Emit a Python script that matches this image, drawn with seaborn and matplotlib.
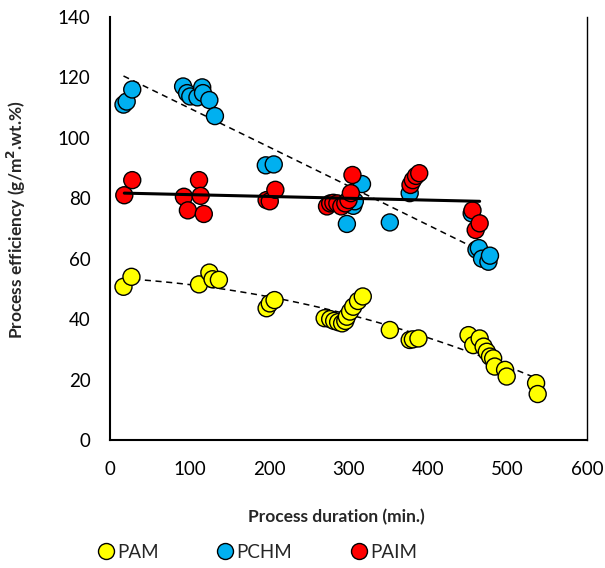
import numpy as np
import pandas as pd
import matplotlib
matplotlib.use("Agg")
import matplotlib.pyplot as plt
import seaborn as sns
from matplotlib.lines import Line2D

sns.set_style("white")
plt.rcParams['font.family'] = ['Lato', 'DejaVu Sans']

# PAM (yellow)
pam_x = [17, 27, 112, 125, 129, 137, 197, 201, 207, 270, 277, 282, 287, 292, 296, 298,
         302, 306, 312, 318, 352, 377, 381, 388, 451, 457, 465, 470, 474, 478, 482, 484,
         497, 499, 536, 538]
pam_y = [50.7, 54, 51.5, 55.4, 53.2, 53, 43.6, 45.2, 46.3, 40.3, 40, 39.4, 39, 38.6, 39.4, 40.8,
         42.5, 44.1, 46, 47.5, 36.4, 33.1, 33.3, 33.6, 34.7, 31.4, 33.6, 30.9, 29.2, 27.6, 27, 24.3,
         23.2, 21, 18.8, 15.2]

# PCHM (blue)
pchm_x = [17, 21, 28, 92, 97, 101, 110, 116, 117, 125, 132, 196, 206, 298, 306, 308, 317,
          352, 377, 455, 461, 464, 468, 476, 478]
pchm_y = [111, 112, 116, 117, 114.8, 113.7, 113.4, 116.7, 114.8, 112.5, 107.2, 90.9, 91.2,
          71.5, 77.5, 79, 84.7, 72, 81.7, 75, 63, 63.5, 60, 59, 61]

# PAIM (red)
paim_x = [18, 28, 93, 98, 112, 114, 118, 197, 201, 208, 273, 277, 281, 286, 291, 296, 300,
          303, 305, 378, 381, 385, 389, 456, 460, 465]
paim_y = [81, 86, 80.5, 76, 86, 80.8, 74.8, 79.4, 79, 82.8, 77.3, 78.3, 78.5, 78.3, 77.3, 78.3,
          79.4, 81.7, 87.7, 84.4, 86, 87.4, 88.3, 76, 69.5, 71.7]

names = ["PAM", "PCHM", "PAIM"]
colors = {"PAM": "#FFFF00", "PCHM": "#00B0F0", "PAIM": "#FF0000"}

df = pd.concat([
    pd.DataFrame({"x": pam_x, "y": pam_y, "s": "PAM"}),
    pd.DataFrame({"x": pchm_x, "y": pchm_y, "s": "PCHM"}),
    pd.DataFrame({"x": paim_x, "y": paim_y, "s": "PAIM"}),
])

fig = plt.figure(figsize=(6.05, 5.68), dpi=100)
ax = fig.add_axes([0.1818, 0.2254, 0.7884, 0.7447])

# trend lines
sns.regplot(data=df[df.s == "PCHM"], x="x", y="y", order=2, scatter=False, ci=None, ax=ax,
            line_kws=dict(color="black", lw=1.1, ls=(0, (4, 3))))
sns.regplot(data=df[df.s == "PAM"], x="x", y="y", order=2, scatter=False, ci=None, ax=ax,
            line_kws=dict(color="black", lw=1.1, ls=(0, (4, 3))))

sns.scatterplot(data=df, x="x", y="y", hue="s", palette=colors, s=150,
                edgecolor="black", linewidth=1.0, ax=ax, legend=False, zorder=3)

sns.regplot(data=df[df.s == "PAIM"], x="x", y="y", order=1, scatter=False, ci=None, ax=ax,
            line_kws=dict(color="black", lw=2.2, zorder=4))

ax.set_xlim(0, 600)
ax.set_ylim(0, 140)
ax.set_xticks(range(0, 601, 100))
ax.set_yticks(range(0, 141, 20))
ax.tick_params(direction="in", length=4, width=1.2, labelsize=13.5, colors="black")
ax.tick_params(axis="y", pad=14)
ax.tick_params(axis="x", pad=15)
for side in ["left", "bottom", "right"]:
    ax.spines[side].set_visible(True)
    ax.spines[side].set_color("black")
    ax.spines[side].set_linewidth(1.5)
ax.spines["top"].set_visible(False)
ax.spines["right"].set_linewidth(1.0)

ax.set_xlabel("Process duration (min.)", fontsize=12.5, fontweight="bold")
ax.set_ylabel("Process efficiency (g/m$^{\\mathbf{2}}$.wt.%)", fontsize=12.5, fontweight="bold")
ax.xaxis.set_label_coords(0.475, -0.163)
ax.yaxis.set_label_coords(-0.172, 0.52)

handles = [Line2D([], [], marker="o", ls="none", markersize=11.5, markerfacecolor=colors[n],
                  markeredgecolor="black", markeredgewidth=1.0) for n in names]
fig.legend(handles, names, loc="center", bbox_to_anchor=(0.425, 0.028), ncol=3, frameon=False,
           fontsize=13.5, handletextpad=0.15, columnspacing=3.1, handlelength=0.9)

fig.savefig("out.png", dpi=100)
